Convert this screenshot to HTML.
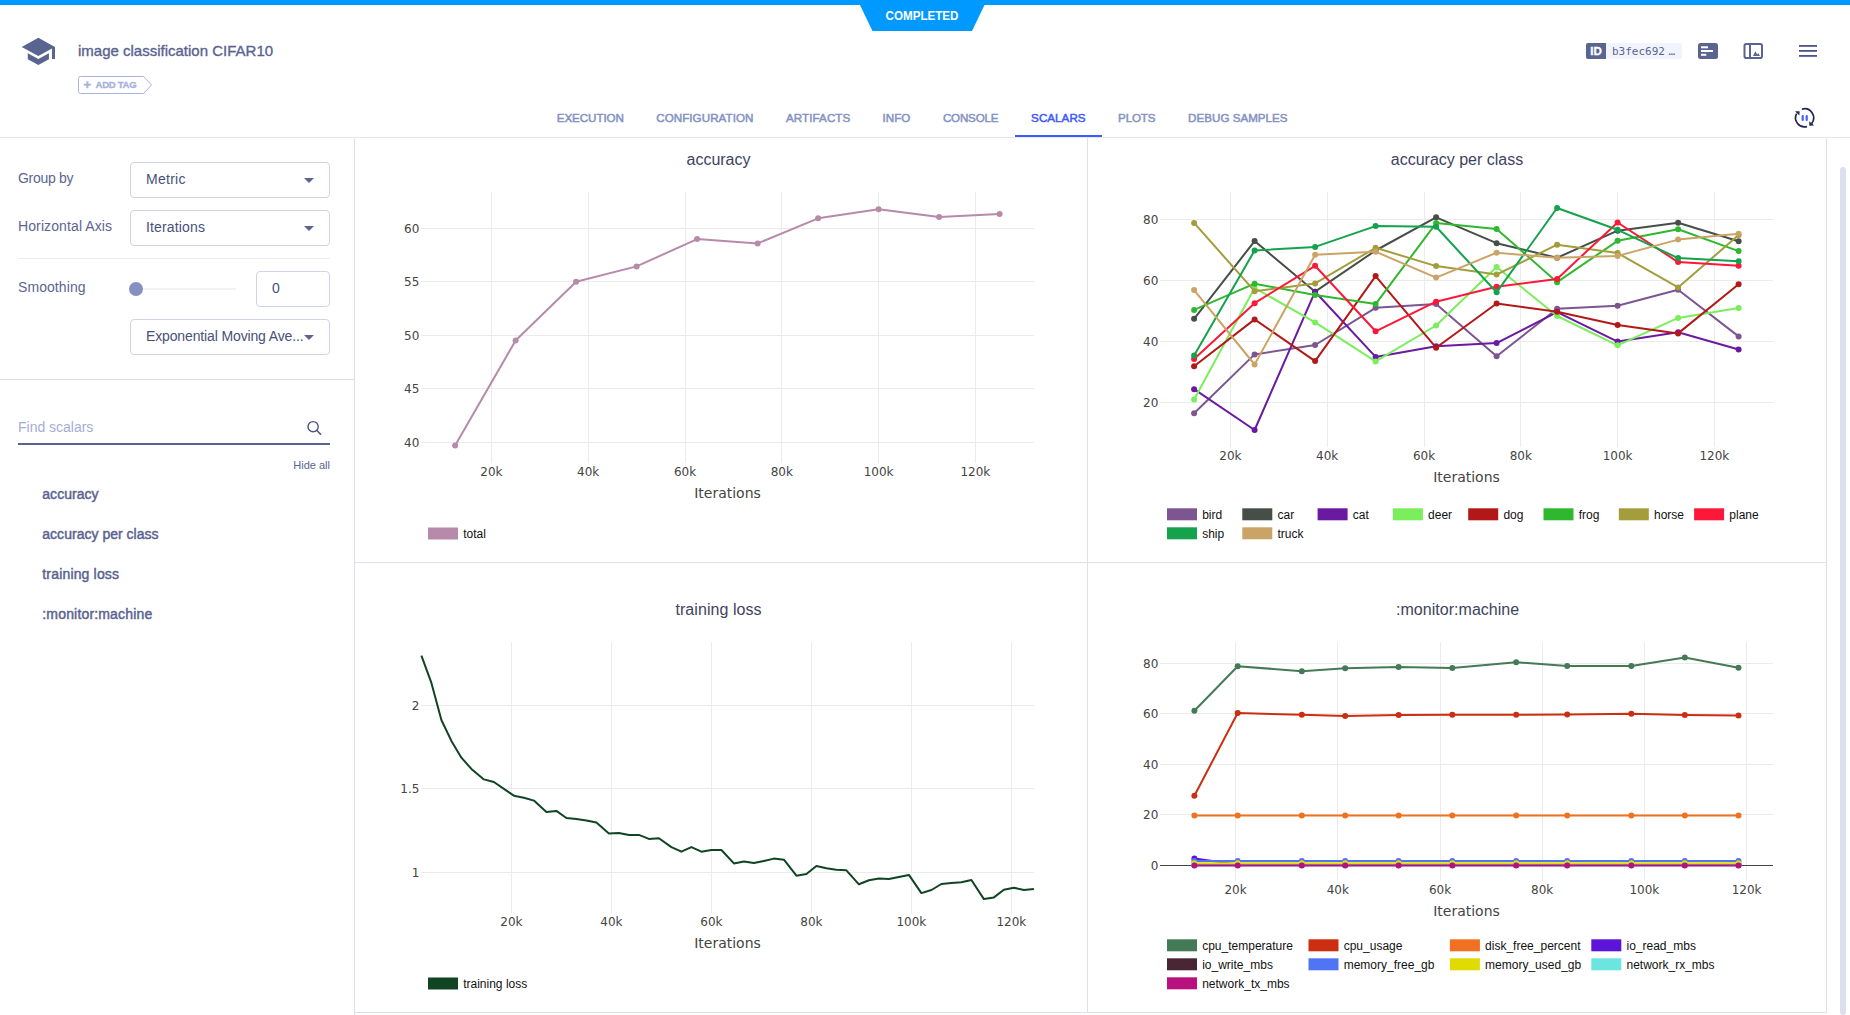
<!DOCTYPE html>
<html lang="en"><head><meta charset="utf-8"><title>image classification CIFAR10 - Scalars</title>
<style>
*{box-sizing:border-box;margin:0;padding:0}
html,body{width:1850px;height:1015px;overflow:hidden;background:#fff}
body{position:relative;font-family:"Liberation Sans",sans-serif;color:#5a6490}
.abs{position:absolute;white-space:nowrap}
.t{position:absolute;white-space:nowrap;line-height:1;transform-origin:0 50%}
#topbar{left:0;top:0;width:1850px;height:5px;background:#0099ff}
.tab{position:absolute;top:112px;font-size:11.6px;line-height:12px;color:#8492c4;-webkit-text-stroke:0.5px #8492c4;white-space:nowrap}
.tab.on{color:#3d5afe;-webkit-text-stroke-color:#3d5afe}
.lbl{font-size:14px;color:#5c6592}
.sel{position:absolute;left:130px;width:200px;height:36px;border:1px solid #cfd3e6;border-radius:4px;background:#fff}
.selt{font-size:14px;color:#47507a}
.arr{position:absolute;width:0;height:0;border-left:5px solid transparent;border-right:5px solid transparent;border-top:5px solid #5c6592}
.li{font-size:14px;color:#5a6290;-webkit-text-stroke:0.45px #5a6290}
.hl{position:absolute;background:#dcdfee}
svg{position:absolute;left:0;top:0;overflow:visible}
svg text{white-space:pre}
</style></head><body>
<div class="abs" id="topbar"></div>
<svg width="1850" height="140" viewBox="0 0 1850 140">
<polygon points="859.5,4 985,4 972,30.9 872.5,30.9" fill="#0099ff"/>
<text x="922" y="20" text-anchor="middle" font-family='"Liberation Sans", sans-serif' font-weight="bold" font-size="12" fill="#fff" textLength="73" lengthAdjust="spacingAndGlyphs">COMPLETED</text>
<!-- graduation cap -->
<g transform="translate(20.2,33.3) scale(1.513)" fill="#5a6490"><path d="M5 13.18v4L12 21l7-3.82v-4L12 17l-7-3.82zM12 3L1 9l11 6 9-4.91V17h2V9L12 3z"/></g>
<!-- add tag outline -->
<path d="M80.5 76.5 H143.5 L151.5 85 L143.5 93.5 H80.5 Q78.5 93.5 78.5 91.5 V78.5 Q78.5 76.5 80.5 76.5 Z" fill="#fff" stroke="#a9b4de" stroke-width="1"/>
<!-- ID badge -->
<rect x="1586" y="43" width="96" height="16" rx="2" fill="#f1f4fd"/>
<path d="M1588 43 H1606 V59 H1588 Q1586 59 1586 57 V45 Q1586 43 1588 43 Z" fill="#5a6490"/>
<!-- icon: details -->
<rect x="1698" y="43" width="20" height="16" rx="2.5" fill="#5a6490"/>
<rect x="1701" y="46.3" width="7" height="2" fill="#fff"/>
<rect x="1701" y="50" width="12" height="2" fill="#fff"/>
<rect x="1701" y="53.8" width="5.3" height="2" fill="#fff"/>
<!-- icon: panel -->
<rect x="1744.5" y="44" width="17.5" height="14" rx="1.8" fill="#fff" stroke="#5a6490" stroke-width="2"/>
<rect x="1749" y="44" width="2" height="14" fill="#5a6490"/>
<path d="M1753 56 L1755.3 51.2 L1757.2 54.4 L1758.2 53.1 L1760 56 Z" fill="#5a6490"/>
<!-- hamburger -->
<rect x="1799" y="45" width="18" height="1.8" fill="#4a5485"/>
<rect x="1799" y="50" width="18" height="1.8" fill="#4a5485"/>
<rect x="1799" y="55" width="18" height="1.8" fill="#4a5485"/>
<!-- refresh / pause -->
<g fill="none" stroke="#1d2756" stroke-width="1.7">
<path d="M1801.8 109.2 A9.1 9.1 0 0 1 1811.6 123.6"/>
<path d="M1807 126.6 A9.1 9.1 0 0 1 1796.6 113.6"/>
</g>
<path d="M1809.2 121.2 L1809.4 125.8 L1814.2 125.6 Z" fill="#1d2756"/>
<path d="M1795 111.3 L1799.6 111.2 L1799.4 115.6 Z" fill="#1d2756"/>
<rect x="1801.6" y="115" width="2.2" height="6" rx="1" fill="#4c5bff"/>
<rect x="1805.6" y="115" width="2.2" height="6" rx="1" fill="#4c5bff"/>
</svg>
<div class="t" id="title" style="left:78px;top:42px;font-size:15px;line-height:17px;color:#5a6290;-webkit-text-stroke:0.35px #5a6290">image classification CIFAR10</div>
<div class="t" id="addplus" style="left:83.6px;top:78.6px;font-size:13px;line-height:12px;font-weight:bold;color:#a7b1dc;-webkit-text-stroke:0.4px #a7b1dc">+</div>
<div class="t" id="addtag" style="letter-spacing:-0.300px;left:95.5px;top:80.2px;font-size:9.6px;line-height:10px;font-weight:bold;color:#a7b1dc;-webkit-text-stroke:0.3px #a7b1dc">ADD TAG</div>
<div class="t" id="idl" style="left:1590.3px;top:45px;font-size:11.5px;line-height:12px;font-weight:bold;color:#fff;-webkit-text-stroke:0.3px #fff">ID</div>
<div class="t" id="idv" style="left:1612px;top:44.7px;font-size:11px;line-height:14px;font-family:'DejaVu Sans Mono', 'Liberation Mono', monospace;color:#5a6490">b3fec692<span style="margin-left:3.5px;letter-spacing:0">…</span></div>
<div class="tab" id="tab0" style="letter-spacing:-0.071px;left:556.8px">EXECUTION</div>
<div class="tab" id="tab1" style="letter-spacing:0.069px;left:656.2px">CONFIGURATION</div>
<div class="tab" id="tab2" style="letter-spacing:0.104px;left:785.9px">ARTIFACTS</div>
<div class="tab" id="tab3" style="letter-spacing:0.099px;left:882.4px">INFO</div>
<div class="tab" id="tab4" style="letter-spacing:-0.186px;left:942.9px">CONSOLE</div>
<div class="tab on" id="tab5" style="letter-spacing:0.054px;left:1031.1px">SCALARS</div>
<div class="tab" id="tab6" style="letter-spacing:-0.183px;left:1118.1px">PLOTS</div>
<div class="tab" id="tab7" style="letter-spacing:0.020px;left:1188.1px">DEBUG SAMPLES</div>
<div class="abs" style="left:0;top:137px;width:1850px;height:1px;background:#e6e7ee"></div>
<div class="abs" style="left:1015px;top:135px;width:87px;height:2px;background:#3d5afe"></div>
<div class="hl" style="left:354px;top:138px;width:1px;height:877px"></div>
<div class="hl" style="left:0;top:379px;width:354px;height:1px"></div>
<div class="abs" style="left:18px;top:258px;width:312px;height:1px;background:#ececf2"></div>
<div class="t lbl" id="l1" style="letter-spacing:-0.287px;left:18px;top:168px;line-height:20px;">Group by</div>
<div class="t lbl" id="l2" style="letter-spacing:0.107px;left:18px;top:216px;line-height:20px;">Horizontal Axis</div>
<div class="t lbl" id="l3" style="letter-spacing:0.074px;left:18px;top:277px;line-height:20px;">Smoothing</div>
<div class="sel" style="top:162px"></div>
<div class="sel" style="top:210px"></div>
<div class="sel" style="top:319px"></div>
<div class="sel" style="left:256px;width:74px;top:271px"></div>
<div class="t selt" id="s1" style="letter-spacing:0.263px;left:146px;top:169px;line-height:20px;">Metric</div>
<div class="t selt" id="s2" style="letter-spacing:0.151px;left:146px;top:217px;line-height:20px;">Iterations</div>
<div class="t selt" id="s3" style="letter-spacing:-0.397px;left:272px;top:278px;line-height:20px;">0</div>
<div class="t selt" id="s4" style="letter-spacing:-0.134px;left:146px;top:326px;line-height:20px;">Exponential Moving Ave...</div>
<div class="arr" style="left:304px;top:178px"></div>
<div class="arr" style="left:304px;top:226px"></div>
<div class="arr" style="left:304px;top:335px"></div>
<div class="abs" style="left:136px;top:288px;width:100px;height:2px;background:#f1f1f6"></div>
<div class="abs" style="left:129px;top:282px;width:14px;height:14px;border-radius:7px;background:#8591c3"></div>
<div class="t lbl" id="fs" style="letter-spacing:-0.014px;left:18px;top:417px;line-height:20px;color:#a4add6;">Find scalars</div>
<div class="abs" style="left:18px;top:443px;width:312px;height:1.5px;background:#5a6490"></div>
<svg width="360" height="1015" viewBox="0 0 360 1015"><circle cx="313.1" cy="426.7" r="5.1" fill="none" stroke="#4a5485" stroke-width="1.4"/><path d="M316.9 430.5 L320.6 434.2" stroke="#4a5485" stroke-width="1.6" stroke-linecap="round"/></svg>
<div class="t" id="hideall" style="letter-spacing:0.002px;left:293.3px;top:459px;font-size:11px;line-height:12px;color:#5a6490">Hide all</div>
<div class="t li" id="li0" style="letter-spacing:0.034px;left:42.3px;top:484.4px;line-height:20px;">accuracy</div>
<div class="t li" id="li1" style="letter-spacing:0.020px;left:42.3px;top:524.3px;line-height:20px;">accuracy per class</div>
<div class="t li" id="li2" style="letter-spacing:0.169px;left:42.3px;top:564.3px;line-height:20px;">training loss</div>
<div class="t li" id="li3" style="letter-spacing:0.169px;left:42.3px;top:604.2px;line-height:20px;">:monitor:machine</div>
<div class="hl" style="left:1087px;top:138px;width:1px;height:875px"></div>
<div class="hl" style="left:1826px;top:138px;width:1px;height:875px"></div>
<div class="hl" style="left:355px;top:562px;width:1472px;height:1px"></div>
<div class="hl" style="left:355px;top:1012px;width:1472px;height:1px"></div>
<div class="abs" style="left:1840px;top:166.5px;width:6px;height:848px;border-radius:3px;background:#dcdfee"></div>
<svg id="charts" width="1850" height="1015" viewBox="0 0 1850 1015"><g stroke="#ebebeb" stroke-width="1" fill="none" shape-rendering="crispEdges"><path d="M491.5 192V463"/><path d="M588.5 192V463"/><path d="M685.5 192V463"/><path d="M781.5 192V463"/><path d="M878.5 192V463"/><path d="M975.5 192V463"/><path d="M421 442.5H1034"/><path d="M421 388.5H1034"/><path d="M421 335.5H1034"/><path d="M421 281.5H1034"/><path d="M421 228.5H1034"/></g>
<path d="M455.1 445.4L515.6 340.5L576.1 281.8L636.6 266.4L697.1 239.1L757.6 243.4L818.1 218.3L878.6 209.2L939.1 217L999.6 214.1" fill="none" stroke="#b78aa9" stroke-width="2" stroke-linejoin="round"/><g fill="#b78aa9"><circle cx="455.1" cy="445.4" r="3"/><circle cx="515.6" cy="340.5" r="3"/><circle cx="576.1" cy="281.8" r="3"/><circle cx="636.6" cy="266.4" r="3"/><circle cx="697.1" cy="239.1" r="3"/><circle cx="757.6" cy="243.4" r="3"/><circle cx="818.1" cy="218.3" r="3"/><circle cx="878.6" cy="209.2" r="3"/><circle cx="939.1" cy="217" r="3"/><circle cx="999.6" cy="214.1" r="3"/></g>
<g font-family='"DejaVu Sans", "Liberation Sans", sans-serif' font-size="12" fill="#444" text-anchor="middle"><text x="491.4" y="476">20k</text><text x="588.2" y="476">40k</text><text x="685" y="476">60k</text><text x="781.8" y="476">80k</text><text x="878.6" y="476">100k</text><text x="975.4" y="476">120k</text></g>
<g font-family='"DejaVu Sans", "Liberation Sans", sans-serif' font-size="12" fill="#444" text-anchor="end"><text x="419.4" y="447">40</text><text x="419.4" y="393">45</text><text x="419.4" y="340">50</text><text x="419.4" y="286">55</text><text x="419.4" y="233">60</text></g>
<text x="727.5" y="498" font-family='"DejaVu Sans", "Liberation Sans", sans-serif' font-size="14" fill="#444" text-anchor="middle">Iterations</text>
<text id="ct1" x="718.5" y="164.5" font-family='"Liberation Sans", sans-serif' font-size="16" fill="#3e4360" text-anchor="middle">accuracy</text>
<g font-family='"Liberation Sans", sans-serif' font-size="12" fill="#111"><rect x="428" y="527.5" width="30" height="12" fill="#b78aa9"/><text x="463.2" y="537.8">total</text></g>
<g stroke="#ebebeb" stroke-width="1" fill="none" shape-rendering="crispEdges"><path d="M1230.5 192V447"/><path d="M1327.5 192V447"/><path d="M1424.5 192V447"/><path d="M1520.5 192V447"/><path d="M1617.5 192V447"/><path d="M1714.5 192V447"/><path d="M1160 402.5H1773"/><path d="M1160 341.5H1773"/><path d="M1160 280.5H1773"/><path d="M1160 219.5H1773"/></g>
<path d="M1194.1 413.2L1254.6 354.4L1315.1 345L1375.6 307.8L1436.1 304.1L1496.6 356.3L1557.1 308.7L1617.6 305.7L1678.1 289.8L1738.6 336.4" fill="none" stroke="#7d5590" stroke-width="2" stroke-linejoin="round"/><g fill="#7d5590"><circle cx="1194.1" cy="413.2" r="3"/><circle cx="1254.6" cy="354.4" r="3"/><circle cx="1315.1" cy="345" r="3"/><circle cx="1375.6" cy="307.8" r="3"/><circle cx="1436.1" cy="304.1" r="3"/><circle cx="1496.6" cy="356.3" r="3"/><circle cx="1557.1" cy="308.7" r="3"/><circle cx="1617.6" cy="305.7" r="3"/><circle cx="1678.1" cy="289.8" r="3"/><circle cx="1738.6" cy="336.4" r="3"/></g>
<path d="M1194.1 318.8L1254.6 241.1L1315.1 291.7L1375.6 250.5L1436.1 217.3L1496.6 243.2L1557.1 257.8L1617.6 230.7L1678.1 222.8L1738.6 241.2" fill="none" stroke="#464f47" stroke-width="2" stroke-linejoin="round"/><g fill="#464f47"><circle cx="1194.1" cy="318.8" r="3"/><circle cx="1254.6" cy="241.1" r="3"/><circle cx="1315.1" cy="291.7" r="3"/><circle cx="1375.6" cy="250.5" r="3"/><circle cx="1436.1" cy="217.3" r="3"/><circle cx="1496.6" cy="243.2" r="3"/><circle cx="1557.1" cy="257.8" r="3"/><circle cx="1617.6" cy="230.7" r="3"/><circle cx="1678.1" cy="222.8" r="3"/><circle cx="1738.6" cy="241.2" r="3"/></g>
<path d="M1194.1 389.2L1254.6 430L1315.1 291.7L1375.6 356.9L1436.1 346.2L1496.6 343.1L1557.1 312.1L1617.6 341.6L1678.1 332.2L1738.6 349.5" fill="none" stroke="#6a1aa0" stroke-width="2" stroke-linejoin="round"/><g fill="#6a1aa0"><circle cx="1194.1" cy="389.2" r="3"/><circle cx="1254.6" cy="430" r="3"/><circle cx="1315.1" cy="291.7" r="3"/><circle cx="1375.6" cy="356.9" r="3"/><circle cx="1436.1" cy="346.2" r="3"/><circle cx="1496.6" cy="343.1" r="3"/><circle cx="1557.1" cy="312.1" r="3"/><circle cx="1617.6" cy="341.6" r="3"/><circle cx="1678.1" cy="332.2" r="3"/><circle cx="1738.6" cy="349.5" r="3"/></g>
<path d="M1194.1 399.4L1254.6 288L1315.1 322.4L1375.6 361.4L1436.1 325.5L1496.6 267L1557.1 316L1617.6 345.3L1678.1 317.9L1738.6 308.1" fill="none" stroke="#7bee5c" stroke-width="2" stroke-linejoin="round"/><g fill="#7bee5c"><circle cx="1194.1" cy="399.4" r="3"/><circle cx="1254.6" cy="288" r="3"/><circle cx="1315.1" cy="322.4" r="3"/><circle cx="1375.6" cy="361.4" r="3"/><circle cx="1436.1" cy="325.5" r="3"/><circle cx="1496.6" cy="267" r="3"/><circle cx="1557.1" cy="316" r="3"/><circle cx="1617.6" cy="345.3" r="3"/><circle cx="1678.1" cy="317.9" r="3"/><circle cx="1738.6" cy="308.1" r="3"/></g>
<path d="M1194.1 366.3L1254.6 319.4L1315.1 361.1L1375.6 276.1L1436.1 347.7L1496.6 303.5L1557.1 311.8L1617.6 324.9L1678.1 333.4L1738.6 284.3" fill="none" stroke="#b31818" stroke-width="2" stroke-linejoin="round"/><g fill="#b31818"><circle cx="1194.1" cy="366.3" r="3"/><circle cx="1254.6" cy="319.4" r="3"/><circle cx="1315.1" cy="361.1" r="3"/><circle cx="1375.6" cy="276.1" r="3"/><circle cx="1436.1" cy="347.7" r="3"/><circle cx="1496.6" cy="303.5" r="3"/><circle cx="1557.1" cy="311.8" r="3"/><circle cx="1617.6" cy="324.9" r="3"/><circle cx="1678.1" cy="333.4" r="3"/><circle cx="1738.6" cy="284.3" r="3"/></g>
<path d="M1194.1 309.9L1254.6 283.7L1315.1 295L1375.6 304.1L1436.1 223.1L1496.6 228.9L1557.1 282.2L1617.6 240.8L1678.1 229.2L1738.6 251.1" fill="none" stroke="#2fb82f" stroke-width="2" stroke-linejoin="round"/><g fill="#2fb82f"><circle cx="1194.1" cy="309.9" r="3"/><circle cx="1254.6" cy="283.7" r="3"/><circle cx="1315.1" cy="295" r="3"/><circle cx="1375.6" cy="304.1" r="3"/><circle cx="1436.1" cy="223.1" r="3"/><circle cx="1496.6" cy="228.9" r="3"/><circle cx="1557.1" cy="282.2" r="3"/><circle cx="1617.6" cy="240.8" r="3"/><circle cx="1678.1" cy="229.2" r="3"/><circle cx="1738.6" cy="251.1" r="3"/></g>
<path d="M1194.1 222.9L1254.6 291.2L1315.1 283.4L1375.6 247.8L1436.1 266.1L1496.6 274.6L1557.1 244.7L1617.6 253L1678.1 287.4L1738.6 235.1" fill="none" stroke="#a39d3b" stroke-width="2" stroke-linejoin="round"/><g fill="#a39d3b"><circle cx="1194.1" cy="222.9" r="3"/><circle cx="1254.6" cy="291.2" r="3"/><circle cx="1315.1" cy="283.4" r="3"/><circle cx="1375.6" cy="247.8" r="3"/><circle cx="1436.1" cy="266.1" r="3"/><circle cx="1496.6" cy="274.6" r="3"/><circle cx="1557.1" cy="244.7" r="3"/><circle cx="1617.6" cy="253" r="3"/><circle cx="1678.1" cy="287.4" r="3"/><circle cx="1738.6" cy="235.1" r="3"/></g>
<path d="M1194.1 359L1254.6 303.2L1315.1 265.8L1375.6 331.3L1436.1 301.7L1496.6 286.8L1557.1 278.9L1617.6 222.5L1678.1 262.1L1738.6 265.8" fill="none" stroke="#fb1838" stroke-width="2" stroke-linejoin="round"/><g fill="#fb1838"><circle cx="1194.1" cy="359" r="3"/><circle cx="1254.6" cy="303.2" r="3"/><circle cx="1315.1" cy="265.8" r="3"/><circle cx="1375.6" cy="331.3" r="3"/><circle cx="1436.1" cy="301.7" r="3"/><circle cx="1496.6" cy="286.8" r="3"/><circle cx="1557.1" cy="278.9" r="3"/><circle cx="1617.6" cy="222.5" r="3"/><circle cx="1678.1" cy="262.1" r="3"/><circle cx="1738.6" cy="265.8" r="3"/></g>
<path d="M1194.1 355.6L1254.6 250.5L1315.1 246.9L1375.6 226.1L1436.1 226.8L1496.6 292.3L1557.1 208L1617.6 229.8L1678.1 258.1L1738.6 261.2" fill="none" stroke="#14a34c" stroke-width="2" stroke-linejoin="round"/><g fill="#14a34c"><circle cx="1194.1" cy="355.6" r="3"/><circle cx="1254.6" cy="250.5" r="3"/><circle cx="1315.1" cy="246.9" r="3"/><circle cx="1375.6" cy="226.1" r="3"/><circle cx="1436.1" cy="226.8" r="3"/><circle cx="1496.6" cy="292.3" r="3"/><circle cx="1557.1" cy="208" r="3"/><circle cx="1617.6" cy="229.8" r="3"/><circle cx="1678.1" cy="258.1" r="3"/><circle cx="1738.6" cy="261.2" r="3"/></g>
<path d="M1194.1 290.1L1254.6 364.5L1315.1 254.8L1375.6 251.7L1436.1 277.6L1496.6 252.7L1557.1 257.8L1617.6 255.9L1678.1 239.6L1738.6 233.8" fill="none" stroke="#caa466" stroke-width="2" stroke-linejoin="round"/><g fill="#caa466"><circle cx="1194.1" cy="290.1" r="3"/><circle cx="1254.6" cy="364.5" r="3"/><circle cx="1315.1" cy="254.8" r="3"/><circle cx="1375.6" cy="251.7" r="3"/><circle cx="1436.1" cy="277.6" r="3"/><circle cx="1496.6" cy="252.7" r="3"/><circle cx="1557.1" cy="257.8" r="3"/><circle cx="1617.6" cy="255.9" r="3"/><circle cx="1678.1" cy="239.6" r="3"/><circle cx="1738.6" cy="233.8" r="3"/></g>
<g font-family='"DejaVu Sans", "Liberation Sans", sans-serif' font-size="12" fill="#444" text-anchor="middle"><text x="1230.4" y="460">20k</text><text x="1327.2" y="460">40k</text><text x="1424" y="460">60k</text><text x="1520.8" y="460">80k</text><text x="1617.6" y="460">100k</text><text x="1714.4" y="460">120k</text></g>
<g font-family='"DejaVu Sans", "Liberation Sans", sans-serif' font-size="12" fill="#444" text-anchor="end"><text x="1158.3" y="407">20</text><text x="1158.3" y="346">40</text><text x="1158.3" y="285">60</text><text x="1158.3" y="224">80</text></g>
<text x="1466.5" y="482" font-family='"DejaVu Sans", "Liberation Sans", sans-serif' font-size="14" fill="#444" text-anchor="middle">Iterations</text>
<text id="ct2" x="1457" y="164.5" font-family='"Liberation Sans", sans-serif' font-size="16" fill="#3e4360" text-anchor="middle">accuracy per class</text>
<g font-family='"Liberation Sans", sans-serif' font-size="12" fill="#111"><rect x="1167" y="508.3" width="30" height="12" fill="#7d5590"/><text x="1202.2" y="518.6">bird</text><rect x="1242.3" y="508.3" width="30" height="12" fill="#464f47"/><text x="1277.5" y="518.6">car</text><rect x="1317.6" y="508.3" width="30" height="12" fill="#6a1aa0"/><text x="1352.8" y="518.6">cat</text><rect x="1392.9" y="508.3" width="30" height="12" fill="#7bee5c"/><text x="1428.1" y="518.6">deer</text><rect x="1468.2" y="508.3" width="30" height="12" fill="#b31818"/><text x="1503.4" y="518.6">dog</text><rect x="1543.5" y="508.3" width="30" height="12" fill="#2fb82f"/><text x="1578.7" y="518.6">frog</text><rect x="1618.8" y="508.3" width="30" height="12" fill="#a39d3b"/><text x="1654" y="518.6">horse</text><rect x="1694.1" y="508.3" width="30" height="12" fill="#fb1838"/><text x="1729.3" y="518.6">plane</text><rect x="1167" y="527.3" width="30" height="12" fill="#14a34c"/><text x="1202.2" y="537.6">ship</text><rect x="1242.3" y="527.3" width="30" height="12" fill="#caa466"/><text x="1277.5" y="537.6">truck</text></g>
<g stroke="#ebebeb" stroke-width="1" fill="none" shape-rendering="crispEdges"><path d="M511.5 642V913"/><path d="M611.5 642V913"/><path d="M711.5 642V913"/><path d="M811.5 642V913"/><path d="M911.5 642V913"/><path d="M1011.5 642V913"/><path d="M421 872.5H1034"/><path d="M421 788.5H1034"/><path d="M421 705.5H1034"/></g>
<path d="M421.4 655.7L431.4 682.9L441.4 720L451.4 740.9L461.4 757.7L471.4 768.9L483.9 779.4L493.9 782L503.9 788.9L513.9 795.7L523.9 797.7L533.9 800.6L546.4 812L556.4 810.9L566.4 818L576.4 818.9L586.4 820.6L596.4 822.6L608.9 833.4L618.9 832.9L628.9 834.9L638.9 834.9L648.9 838.9L658.9 838.3L671.4 847.1L681.4 851.7L691.4 847.1L701.4 851.7L711.4 850L721.4 850L733.9 863.4L743.9 861.4L753.9 863.1L763.9 860.9L773.9 858.6L783.9 859.7L796.4 875.7L806.4 874L816.4 866L826.4 868.3L836.4 869.7L846.4 870.3L858.9 884.3L868.9 880.3L878.9 878.6L888.9 879.1L898.9 876.9L908.9 874.9L921.4 893.1L931.4 890L941.4 884L951.4 883.1L961.4 882.3L971.4 880L983.9 899.1L993.9 897.4L1003.9 889.7L1013.9 887.7L1023.9 890L1033.9 888.9" fill="none" stroke="#114422" stroke-width="2" stroke-linejoin="round"/>
<g font-family='"DejaVu Sans", "Liberation Sans", sans-serif' font-size="12" fill="#444" text-anchor="middle"><text x="511.4" y="926">20k</text><text x="611.4" y="926">40k</text><text x="711.4" y="926">60k</text><text x="811.4" y="926">80k</text><text x="911.4" y="926">100k</text><text x="1011.4" y="926">120k</text></g>
<g font-family='"DejaVu Sans", "Liberation Sans", sans-serif' font-size="12" fill="#444" text-anchor="end"><text x="419.4" y="877">1</text><text x="419.4" y="793">1.5</text><text x="419.4" y="710">2</text></g>
<text x="727.5" y="948" font-family='"DejaVu Sans", "Liberation Sans", sans-serif' font-size="14" fill="#444" text-anchor="middle">Iterations</text>
<text id="ct3" x="718.5" y="614.5" font-family='"Liberation Sans", sans-serif' font-size="16" fill="#3e4360" text-anchor="middle" textLength="86" lengthAdjust="spacing">training loss</text>
<g font-family='"Liberation Sans", sans-serif' font-size="12" fill="#111"><rect x="428" y="977.5" width="30" height="12" fill="#114422"/><text x="463.2" y="987.8">training loss</text></g>
<g stroke="#ebebeb" stroke-width="1" fill="none" shape-rendering="crispEdges"><path d="M1235.5 642V881"/><path d="M1337.5 642V881"/><path d="M1440.5 642V881"/><path d="M1542.5 642V881"/><path d="M1644.5 642V881"/><path d="M1746.5 642V881"/><path d="M1160 814.5H1773"/><path d="M1160 764.5H1773"/><path d="M1160 713.5H1773"/><path d="M1160 663.5H1773"/></g><path d="M1160 865.5H1773" stroke="#444" stroke-width="1" shape-rendering="crispEdges"/>
<path d="M1194.4 710.7L1237.7 666.2L1301.8 671.2L1345.2 668.3L1398.6 667L1452.3 668L1516.2 662.2L1567.2 665.9L1631.3 665.9L1684.8 657.4L1738.5 667.8" fill="none" stroke="#447a55" stroke-width="2" stroke-linejoin="round"/><g fill="#447a55"><circle cx="1194.4" cy="710.7" r="3"/><circle cx="1237.7" cy="666.2" r="3"/><circle cx="1301.8" cy="671.2" r="3"/><circle cx="1345.2" cy="668.3" r="3"/><circle cx="1398.6" cy="667" r="3"/><circle cx="1452.3" cy="668" r="3"/><circle cx="1516.2" cy="662.2" r="3"/><circle cx="1567.2" cy="665.9" r="3"/><circle cx="1631.3" cy="665.9" r="3"/><circle cx="1684.8" cy="657.4" r="3"/><circle cx="1738.5" cy="667.8" r="3"/></g>
<path d="M1194.4 795.7L1237.7 713L1301.8 714.8L1345.2 715.9L1398.6 715.1L1452.3 714.8L1516.2 714.8L1567.2 714.6L1631.3 713.8L1684.8 715.1L1738.5 715.4" fill="none" stroke="#cb2e10" stroke-width="2" stroke-linejoin="round"/><g fill="#cb2e10"><circle cx="1194.4" cy="795.7" r="3"/><circle cx="1237.7" cy="713" r="3"/><circle cx="1301.8" cy="714.8" r="3"/><circle cx="1345.2" cy="715.9" r="3"/><circle cx="1398.6" cy="715.1" r="3"/><circle cx="1452.3" cy="714.8" r="3"/><circle cx="1516.2" cy="714.8" r="3"/><circle cx="1567.2" cy="714.6" r="3"/><circle cx="1631.3" cy="713.8" r="3"/><circle cx="1684.8" cy="715.1" r="3"/><circle cx="1738.5" cy="715.4" r="3"/></g>
<path d="M1194.4 815.4L1237.7 815.4L1301.8 815.4L1345.2 815.4L1398.6 815.4L1452.3 815.4L1516.2 815.4L1567.2 815.4L1631.3 815.4L1684.8 815.4L1738.5 815.4" fill="none" stroke="#f07121" stroke-width="2" stroke-linejoin="round"/><g fill="#f07121"><circle cx="1194.4" cy="815.4" r="3"/><circle cx="1237.7" cy="815.4" r="3"/><circle cx="1301.8" cy="815.4" r="3"/><circle cx="1345.2" cy="815.4" r="3"/><circle cx="1398.6" cy="815.4" r="3"/><circle cx="1452.3" cy="815.4" r="3"/><circle cx="1516.2" cy="815.4" r="3"/><circle cx="1567.2" cy="815.4" r="3"/><circle cx="1631.3" cy="815.4" r="3"/><circle cx="1684.8" cy="815.4" r="3"/><circle cx="1738.5" cy="815.4" r="3"/></g>
<path d="M1194.4 858.4L1237.7 864.6L1301.8 864.6L1345.2 864.6L1398.6 864.6L1452.3 864.6L1516.2 864.6L1567.2 864.6L1631.3 864.6L1684.8 864.6L1738.5 864.6" fill="none" stroke="#5b14d8" stroke-width="2" stroke-linejoin="round"/><g fill="#5b14d8"><circle cx="1194.4" cy="858.4" r="3"/><circle cx="1237.7" cy="864.6" r="3"/><circle cx="1301.8" cy="864.6" r="3"/><circle cx="1345.2" cy="864.6" r="3"/><circle cx="1398.6" cy="864.6" r="3"/><circle cx="1452.3" cy="864.6" r="3"/><circle cx="1516.2" cy="864.6" r="3"/><circle cx="1567.2" cy="864.6" r="3"/><circle cx="1631.3" cy="864.6" r="3"/><circle cx="1684.8" cy="864.6" r="3"/><circle cx="1738.5" cy="864.6" r="3"/></g>
<path d="M1194.4 865L1237.7 865L1301.8 865L1345.2 865L1398.6 865L1452.3 865L1516.2 865L1567.2 865L1631.3 865L1684.8 865L1738.5 865" fill="none" stroke="#4a2533" stroke-width="2" stroke-linejoin="round"/><g fill="#4a2533"><circle cx="1194.4" cy="865" r="3"/><circle cx="1237.7" cy="865" r="3"/><circle cx="1301.8" cy="865" r="3"/><circle cx="1345.2" cy="865" r="3"/><circle cx="1398.6" cy="865" r="3"/><circle cx="1452.3" cy="865" r="3"/><circle cx="1516.2" cy="865" r="3"/><circle cx="1567.2" cy="865" r="3"/><circle cx="1631.3" cy="865" r="3"/><circle cx="1684.8" cy="865" r="3"/><circle cx="1738.5" cy="865" r="3"/></g>
<path d="M1194.4 861L1237.7 861L1301.8 861L1345.2 861L1398.6 861L1452.3 861L1516.2 861L1567.2 861L1631.3 861L1684.8 861L1738.5 861" fill="none" stroke="#5075f4" stroke-width="2" stroke-linejoin="round"/><g fill="#5075f4"><circle cx="1194.4" cy="861" r="3"/><circle cx="1237.7" cy="861" r="3"/><circle cx="1301.8" cy="861" r="3"/><circle cx="1345.2" cy="861" r="3"/><circle cx="1398.6" cy="861" r="3"/><circle cx="1452.3" cy="861" r="3"/><circle cx="1516.2" cy="861" r="3"/><circle cx="1567.2" cy="861" r="3"/><circle cx="1631.3" cy="861" r="3"/><circle cx="1684.8" cy="861" r="3"/><circle cx="1738.5" cy="861" r="3"/></g>
<path d="M1194.4 863.2L1237.7 863.2L1301.8 863.2L1345.2 863.2L1398.6 863.2L1452.3 863.2L1516.2 863.2L1567.2 863.2L1631.3 863.2L1684.8 863.2L1738.5 863.2" fill="none" stroke="#dfdb03" stroke-width="2" stroke-linejoin="round"/><g fill="#dfdb03"><circle cx="1194.4" cy="863.2" r="3"/><circle cx="1237.7" cy="863.2" r="3"/><circle cx="1301.8" cy="863.2" r="3"/><circle cx="1345.2" cy="863.2" r="3"/><circle cx="1398.6" cy="863.2" r="3"/><circle cx="1452.3" cy="863.2" r="3"/><circle cx="1516.2" cy="863.2" r="3"/><circle cx="1567.2" cy="863.2" r="3"/><circle cx="1631.3" cy="863.2" r="3"/><circle cx="1684.8" cy="863.2" r="3"/><circle cx="1738.5" cy="863.2" r="3"/></g>
<path d="M1194.4 865.2L1237.7 865.2L1301.8 865.2L1345.2 865.2L1398.6 865.2L1452.3 865.2L1516.2 865.2L1567.2 865.2L1631.3 865.2L1684.8 865.2L1738.5 865.2" fill="none" stroke="#6ae6df" stroke-width="2" stroke-linejoin="round"/><g fill="#6ae6df"><circle cx="1194.4" cy="865.2" r="3"/><circle cx="1237.7" cy="865.2" r="3"/><circle cx="1301.8" cy="865.2" r="3"/><circle cx="1345.2" cy="865.2" r="3"/><circle cx="1398.6" cy="865.2" r="3"/><circle cx="1452.3" cy="865.2" r="3"/><circle cx="1516.2" cy="865.2" r="3"/><circle cx="1567.2" cy="865.2" r="3"/><circle cx="1631.3" cy="865.2" r="3"/><circle cx="1684.8" cy="865.2" r="3"/><circle cx="1738.5" cy="865.2" r="3"/></g>
<path d="M1194.4 865.4L1237.7 865.4L1301.8 865.4L1345.2 865.4L1398.6 865.4L1452.3 865.4L1516.2 865.4L1567.2 865.4L1631.3 865.4L1684.8 865.4L1738.5 865.4" fill="none" stroke="#b8107c" stroke-width="2" stroke-linejoin="round"/><g fill="#b8107c"><circle cx="1194.4" cy="865.4" r="3"/><circle cx="1237.7" cy="865.4" r="3"/><circle cx="1301.8" cy="865.4" r="3"/><circle cx="1345.2" cy="865.4" r="3"/><circle cx="1398.6" cy="865.4" r="3"/><circle cx="1452.3" cy="865.4" r="3"/><circle cx="1516.2" cy="865.4" r="3"/><circle cx="1567.2" cy="865.4" r="3"/><circle cx="1631.3" cy="865.4" r="3"/><circle cx="1684.8" cy="865.4" r="3"/><circle cx="1738.5" cy="865.4" r="3"/></g>
<g font-family='"DejaVu Sans", "Liberation Sans", sans-serif' font-size="12" fill="#444" text-anchor="middle"><text x="1235.6" y="894">20k</text><text x="1337.8" y="894">40k</text><text x="1440" y="894">60k</text><text x="1542.2" y="894">80k</text><text x="1644.4" y="894">100k</text><text x="1746.6" y="894">120k</text></g>
<g font-family='"DejaVu Sans", "Liberation Sans", sans-serif' font-size="12" fill="#444" text-anchor="end"><text x="1158.3" y="870">0</text><text x="1158.3" y="819">20</text><text x="1158.3" y="769">40</text><text x="1158.3" y="718">60</text><text x="1158.3" y="668">80</text></g>
<text x="1466.5" y="916" font-family='"DejaVu Sans", "Liberation Sans", sans-serif' font-size="14" fill="#444" text-anchor="middle">Iterations</text>
<text id="ct4" x="1457.6" y="614.5" font-family='"Liberation Sans", sans-serif' font-size="16" fill="#3e4360" text-anchor="middle" textLength="123.2" lengthAdjust="spacing">:monitor:machine</text>
<g font-family='"Liberation Sans", sans-serif' font-size="12" fill="#111"><rect x="1167" y="939.3" width="30" height="12" fill="#447a55"/><text x="1202.2" y="949.6">cpu_temperature</text><rect x="1308.5" y="939.3" width="30" height="12" fill="#cb2e10"/><text x="1343.7" y="949.6">cpu_usage</text><rect x="1449.9" y="939.3" width="30" height="12" fill="#f07121"/><text x="1485.1" y="949.6">disk_free_percent</text><rect x="1591.3" y="939.3" width="30" height="12" fill="#5b14d8"/><text x="1626.5" y="949.6">io_read_mbs</text><rect x="1167" y="958.3" width="30" height="12" fill="#4a2533"/><text x="1202.2" y="968.6">io_write_mbs</text><rect x="1308.5" y="958.3" width="30" height="12" fill="#5075f4"/><text x="1343.7" y="968.6">memory_free_gb</text><rect x="1449.9" y="958.3" width="30" height="12" fill="#dfdb03"/><text x="1485.1" y="968.6">memory_used_gb</text><rect x="1591.3" y="958.3" width="30" height="12" fill="#6ae6df"/><text x="1626.5" y="968.6">network_rx_mbs</text><rect x="1167" y="977.3" width="30" height="12" fill="#b8107c"/><text x="1202.2" y="987.6">network_tx_mbs</text></g></svg>
</body></html>
